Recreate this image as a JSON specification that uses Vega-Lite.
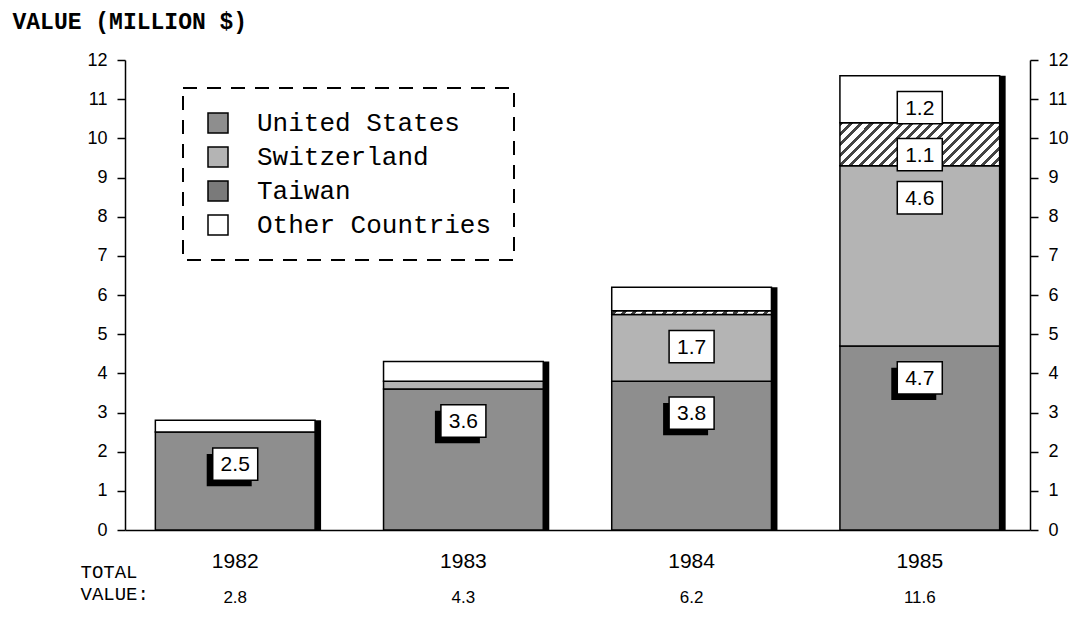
{
  "$schema": "https://vega.github.io/schema/vega-lite/v6.json",
  "width": 905,
  "height": 470,
  "autosize": {"type": "none"},
  "padding": {"left": 125, "top": 60, "right": 42, "bottom": 87},
  "background": "white",
  "data": {
    "values": [
      {"year": "1982", "country": "United States", "order": 1, "value": 2.5, "label": "2.5"},
      {"year": "1982", "country": "Switzerland", "order": 2, "value": 0, "label": ""},
      {"year": "1982", "country": "Taiwan", "order": 3, "value": 0, "label": ""},
      {"year": "1982", "country": "Other Countries", "order": 4, "value": 0.3, "label": ""},
      {"year": "1983", "country": "United States", "order": 1, "value": 3.6, "label": "3.6"},
      {"year": "1983", "country": "Switzerland", "order": 2, "value": 0.2, "label": ""},
      {"year": "1983", "country": "Taiwan", "order": 3, "value": 0, "label": ""},
      {"year": "1983", "country": "Other Countries", "order": 4, "value": 0.5, "label": ""},
      {"year": "1984", "country": "United States", "order": 1, "value": 3.8, "label": "3.8"},
      {"year": "1984", "country": "Switzerland", "order": 2, "value": 1.7, "label": "1.7"},
      {"year": "1984", "country": "Taiwan", "order": 3, "value": 0.1, "label": ""},
      {"year": "1984", "country": "Other Countries", "order": 4, "value": 0.6, "label": ""},
      {"year": "1985", "country": "United States", "order": 1, "value": 4.7, "label": "4.7"},
      {"year": "1985", "country": "Switzerland", "order": 2, "value": 4.6, "label": "4.6"},
      {"year": "1985", "country": "Taiwan", "order": 3, "value": 1.1, "label": "1.1"},
      {"year": "1985", "country": "Other Countries", "order": 4, "value": 1.2, "label": "1.2"}
    ]
  },
  "transform": [
    {"stack": "value", "groupby": ["year"], "sort": [{"field": "order", "order": "ascending"}], "as": ["v0", "v1"]}
  ],
  "resolve": {"axis": {"y": "independent"}},
  "layer": [
    {
      "mark": {"type": "bar", "color": "black", "xOffset": 6},
      "encoding": {
        "x": {"field": "year", "type": "nominal",
              "scale": {"type": "band", "paddingInner": 0.3, "paddingOuter": 0.133, "align": 0.5},
              "axis": {"title": ["TOTAL", "VALUE:"], "titleFont": "Liberation Mono", "titleFontSize": 19,
                       "titleFontWeight": "normal", "titleColor": "black", "titleLineHeight": 22,
                       "titleX": -45, "titleY": 32, "titleAlign": "left", "titleBaseline": "top", "titleAnchor": "start",
                       "labelAngle": 0, "labelFont": "Liberation Sans", "labelFontSize": 21, "labelColor": "black",
                       "labelPadding": 20, "ticks": false, "domainColor": "black", "domainWidth": 1.5}},
        "y": {"aggregate": "max", "field": "v1", "type": "quantitative",
              "scale": {"domain": [0, 12], "nice": false},
              "axis": {"orient": "right", "title": null, "values": [0,1,2,3,4,5,6,7,8,9,10,11,12],
                       "grid": false, "domainColor": "black", "domainWidth": 1.5, "tickColor": "black",
                       "tickWidth": 1.5, "tickSize": 8, "labelFont": "Liberation Sans", "labelFontSize": 18,
                       "labelColor": "black", "labelPadding": 10}}
      }
    },
    {
      "transform": [{"filter": "datum.value > 0"}],
      "mark": {"type": "bar", "stroke": "black", "strokeWidth": 1.5},
      "encoding": {
        "x": {"field": "year", "type": "nominal"},
        "y": {"field": "v1", "type": "quantitative",
              "axis": {"orient": "left", "title": "VALUE (MILLION $)", "titleAngle": 0, "titleX": -113, "titleY": -39,
                       "titleAlign": "left", "titleBaseline": "middle", "titleFont": "Liberation Mono",
                       "titleFontSize": 23, "titleFontWeight": "bold", "titleColor": "black",
                       "values": [0,1,2,3,4,5,6,7,8,9,10,11,12], "grid": false, "domainColor": "black",
                       "domainWidth": 1.5, "tickColor": "black", "tickWidth": 1.5, "tickSize": 8,
                       "labelFont": "Liberation Sans", "labelFontSize": 18, "labelColor": "black", "labelPadding": 10}},
        "y2": {"field": "v0"},
        "fill": {
          "condition": {"test": "datum.country === 'Taiwan'",
            "value": {"gradient": "linear", "x1": 0, "y1": 0, "x2": 1.183, "y2": 0.318, "stops": [
              {"offset": 0, "color": "#444"}, {"offset": 0.02, "color": "#444"}, {"offset": 0.02, "color": "#fff"}, {"offset": 0.05, "color": "#fff"},
              {"offset": 0.05, "color": "#444"}, {"offset": 0.07, "color": "#444"}, {"offset": 0.07, "color": "#fff"}, {"offset": 0.1, "color": "#fff"},
              {"offset": 0.1, "color": "#444"}, {"offset": 0.12, "color": "#444"}, {"offset": 0.12, "color": "#fff"}, {"offset": 0.15, "color": "#fff"},
              {"offset": 0.15, "color": "#444"}, {"offset": 0.17, "color": "#444"}, {"offset": 0.17, "color": "#fff"}, {"offset": 0.2, "color": "#fff"},
              {"offset": 0.2, "color": "#444"}, {"offset": 0.22, "color": "#444"}, {"offset": 0.22, "color": "#fff"}, {"offset": 0.25, "color": "#fff"},
              {"offset": 0.25, "color": "#444"}, {"offset": 0.27, "color": "#444"}, {"offset": 0.27, "color": "#fff"}, {"offset": 0.3, "color": "#fff"},
              {"offset": 0.3, "color": "#444"}, {"offset": 0.32, "color": "#444"}, {"offset": 0.32, "color": "#fff"}, {"offset": 0.35, "color": "#fff"},
              {"offset": 0.35, "color": "#444"}, {"offset": 0.37, "color": "#444"}, {"offset": 0.37, "color": "#fff"}, {"offset": 0.4, "color": "#fff"},
              {"offset": 0.4, "color": "#444"}, {"offset": 0.42, "color": "#444"}, {"offset": 0.42, "color": "#fff"}, {"offset": 0.45, "color": "#fff"},
              {"offset": 0.45, "color": "#444"}, {"offset": 0.47, "color": "#444"}, {"offset": 0.47, "color": "#fff"}, {"offset": 0.5, "color": "#fff"},
              {"offset": 0.5, "color": "#444"}, {"offset": 0.52, "color": "#444"}, {"offset": 0.52, "color": "#fff"}, {"offset": 0.55, "color": "#fff"},
              {"offset": 0.55, "color": "#444"}, {"offset": 0.57, "color": "#444"}, {"offset": 0.57, "color": "#fff"}, {"offset": 0.6, "color": "#fff"},
              {"offset": 0.6, "color": "#444"}, {"offset": 0.62, "color": "#444"}, {"offset": 0.62, "color": "#fff"}, {"offset": 0.65, "color": "#fff"},
              {"offset": 0.65, "color": "#444"}, {"offset": 0.67, "color": "#444"}, {"offset": 0.67, "color": "#fff"}, {"offset": 0.7, "color": "#fff"},
              {"offset": 0.7, "color": "#444"}, {"offset": 0.72, "color": "#444"}, {"offset": 0.72, "color": "#fff"}, {"offset": 0.75, "color": "#fff"},
              {"offset": 0.75, "color": "#444"}, {"offset": 0.77, "color": "#444"}, {"offset": 0.77, "color": "#fff"}, {"offset": 0.8, "color": "#fff"},
              {"offset": 0.8, "color": "#444"}, {"offset": 0.82, "color": "#444"}, {"offset": 0.82, "color": "#fff"}, {"offset": 0.85, "color": "#fff"},
              {"offset": 0.85, "color": "#444"}, {"offset": 0.87, "color": "#444"}, {"offset": 0.87, "color": "#fff"}, {"offset": 0.9, "color": "#fff"},
              {"offset": 0.9, "color": "#444"}, {"offset": 0.92, "color": "#444"}, {"offset": 0.92, "color": "#fff"}, {"offset": 0.95, "color": "#fff"},
              {"offset": 0.95, "color": "#444"}, {"offset": 0.97, "color": "#444"}, {"offset": 0.97, "color": "#fff"}, {"offset": 1, "color": "#fff"}
            ]}},
          "field": "country", "type": "nominal",
          "scale": {"domain": ["United States", "Switzerland", "Taiwan", "Other Countries"],
                    "range": ["#8e8e8e", "#b4b4b4", "#7a7a7a", "#ffffff"]},
          "legend": {"orient": "none", "legendX": 58, "legendY": 28, "title": null, "symbolType": "square",
                     "symbolSize": 400, "symbolStrokeColor": "black", "symbolStrokeWidth": 1.5, "symbolOpacity": 1,
                     "labelFont": "Liberation Mono", "labelFontSize": 26, "labelColor": "black", "labelOffset": 26,
                     "rowPadding": 8, "padding": 22, "labelLimit": 400}
        }
      }
    },
    {
      "transform": [{"filter": "datum.country === 'United States'"}],
      "mark": {"type": "point", "shape": "M-1,-0.72L1,-0.72L1,0.72L-1,0.72Z", "size": 2025, "filled": true,
               "color": "black", "opacity": 1, "xOffset": -6, "yOffset": 38},
      "encoding": {
        "x": {"field": "year", "type": "nominal"},
        "y": {"field": "v1", "type": "quantitative", "axis": null}
      }
    },
    {
      "transform": [{"filter": "datum.label !== ''"}],
      "mark": {"type": "point", "shape": "M-1,-0.72L1,-0.72L1,0.72L-1,0.72Z", "size": 2025, "filled": true,
               "fill": "white", "stroke": "black", "strokeWidth": 1.5, "opacity": 1, "yOffset": 32},
      "encoding": {
        "x": {"field": "year", "type": "nominal"},
        "y": {"field": "v1", "type": "quantitative", "axis": null}
      }
    },
    {
      "transform": [{"filter": "datum.label !== ''"}],
      "mark": {"type": "text", "font": "Liberation Sans", "fontSize": 21, "color": "black", "baseline": "middle",
               "align": "center", "yOffset": 33},
      "encoding": {
        "x": {"field": "year", "type": "nominal"},
        "y": {"field": "v1", "type": "quantitative", "axis": null},
        "text": {"field": "label"}
      }
    },
    {
      "mark": {"type": "text", "font": "Liberation Sans", "fontSize": 17, "color": "black", "baseline": "middle",
               "align": "center", "yOffset": 68},
      "encoding": {
        "x": {"field": "year", "type": "nominal"},
        "y": {"datum": 0, "type": "quantitative", "axis": null},
        "text": {"aggregate": "sum", "field": "value", "type": "quantitative", "format": ".1f"}
      }
    }
  ],
  "config": {
    "view": {"stroke": null},
    "axisX": {"titleFontSize": 19, "titleFont": "Liberation Mono", "titleFontWeight": "normal"},
    "legend": {"strokeColor": "black", "strokeDash": [14, 10], "strokeWidth": 2, "fillColor": "white", "cornerRadius": 0}
  }
}
